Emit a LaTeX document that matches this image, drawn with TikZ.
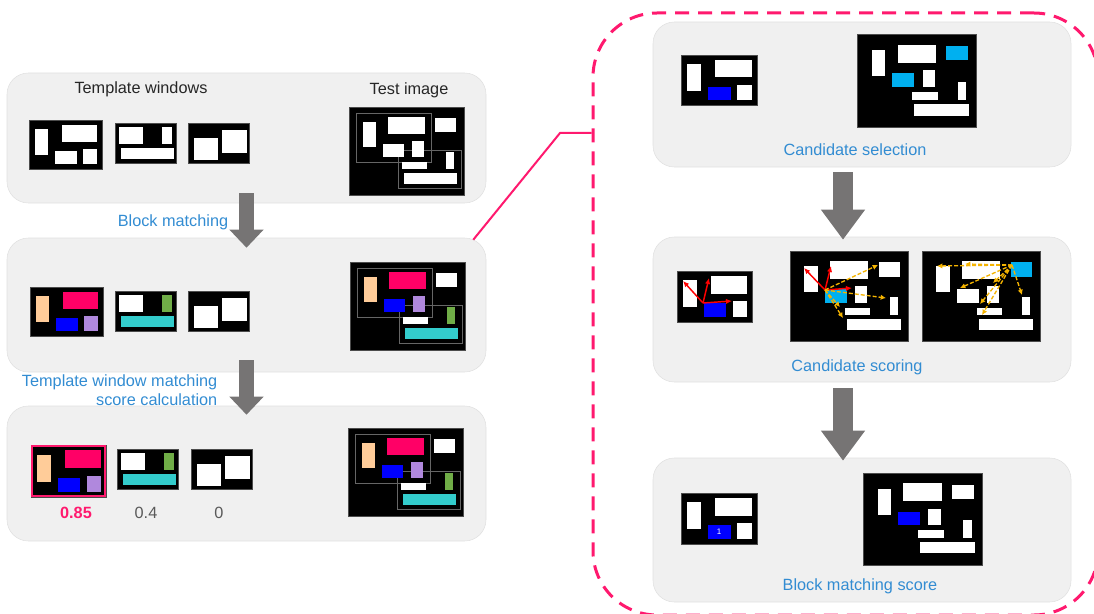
\documentclass[tikz,border=0pt]{standalone}
\usepackage{fontspec}
\setmainfont{Liberation Sans}
\usetikzlibrary{arrows.meta,fit}

\definecolor{panelgray}{RGB}{240,240,240}
\definecolor{zoompink}{RGB}{255,25,110}
\definecolor{capblue}{RGB}{50,140,210}
\definecolor{peach}{RGB}{255,204,153}
\definecolor{crimson}{RGB}{255,0,102}
\definecolor{lilac}{RGB}{176,136,221}
\definecolor{leaf}{RGB}{112,173,71}
\definecolor{blockcyan}{RGB}{51,204,204}
\definecolor{skyblue}{RGB}{0,176,240}
\definecolor{arrowgray}{RGB}{118,116,116}
\definecolor{goldline}{RGB}{245,180,0}

\tikzset{
  panel/.style={draw=black!12, fill=panelgray, rounded corners=16pt, inner sep=0pt},
  zoombox/.style={draw=zoompink, line width=2.25pt, dash pattern=on 10.5pt off 6.75pt, rounded corners=48pt, inner sep=0pt},
  win/.style={fill=black, draw=black!70, line width=0.5pt},
  blk/.style={fill=white},
  ctall/.style={blk}, ctop/.style={blk}, cright/.style={blk}, cmidA/.style={blk},
  cmidB/.style={blk}, cstall/.style={blk}, cswide/.style={blk}, cbottom/.style={blk},
  frm/.style={draw=none},
  frmon/.style={frm/.style={draw=black!60, line width=0.7pt}},
  caption/.style={font=\fontsize{12.2}{14}\selectfont, text=black!85},
  bluecap/.style={font=\fontsize{12.2}{14}\selectfont, text=capblue},
  score/.style={font=\fontsize{12.2}{14}\selectfont, text=black!65},
  bigarrow/.style={arrowgray, line width=11.25pt, -{Triangle[width=24.75pt,length=13.5pt]}},
  bigarrowR/.style={arrowgray, line width=15pt, -{Triangle[width=31.5pt,length=22.5pt]}},
  redvec/.style={red, line width=1.1pt, -{Latex[length=4.5pt,width=4pt]}},
  goldvec/.style={goldline, line width=1pt, dash pattern=on 3pt off 1.5pt, -{Latex[length=4pt,width=4pt]}},
}

\newcommand\tplA[2][]{%
  \begin{scope}[shift={#2},#1]
    \path[win] (0,0) rectangle (73,49);
    \path[ctall] (6,9) rectangle (19,35);
    \path[ctop] (33,5) rectangle (68,22);
    \path[cmidA] (26,31) rectangle (48,44);
    \path[cright] (54,29) rectangle (68,44);
  \end{scope}}
\newcommand\tplB[2][]{%
  \begin{scope}[shift={#2},#1]
    \path[win] (0,0) rectangle (61,40);
    \path[ctop] (4,4) rectangle (28,21);
    \path[cstall] (47,4) rectangle (57,21);
    \path[cbottom] (6,25) rectangle (59,36);
  \end{scope}}
\newcommand\tplC[2][]{%
  \begin{scope}[shift={#2},#1]
    \path[win] (0,0) rectangle (61,40);
    \path[cmidA] (6,15) rectangle (30,37);
    \path[ctop] (34,7) rectangle (59,30);
  \end{scope}}
\newcommand\testimg[2][]{%
  \begin{scope}[shift={#2},#1]
    \path[win] (0,0) rectangle (115,88);
    \path[frm] (7,6) rectangle (82,55);
    \path[frm] (49,43) rectangle (112,81);
    \path[ctall] (14,15) rectangle (27,40);
    \path[ctop] (39,10) rectangle (76,27);
    \path[cright] (86,11) rectangle (107,25);
    \path[cmidA] (34,37) rectangle (55,50);
    \path[cmidB] (63,34) rectangle (75,50);
    \path[cstall] (97,45) rectangle (105,62);
    \path[cswide] (53,55) rectangle (78,62);
    \path[cbottom] (55,66) rectangle (108,77);
  \end{scope}}

\begin{document}
\begin{tikzpicture}[x=0.75pt,y=-0.75pt]
\useasboundingbox (0,0) rectangle (1094,613);

\node[panel, fit={(7,73) (486,203)}] (p1) {};
\node[panel, fit={(7,238) (486,372)}] (p2) {};
\node[panel, fit={(7,406) (486,541)}] (p3) {};
\node[panel, fit={(653,22) (1071,167)}] (r1) {};
\node[panel, fit={(653,237) (1071,382)}] (r2) {};
\node[panel, fit={(653,458) (1071,602)}] (r3) {};
\node[zoombox, fit={(593,13) (1098,615)}] (zoom) {};

\coordinate (bend) at (560,133);
\draw[zoompink, line width=1.5pt] ([shift={(-9.75pt,-1.5pt)}]p2.north east) -- (bend) -- (bend -| zoom.west);

\node[caption] (twin) at (141,89) {Template windows};
\node[caption] (timg) at (409,90) {Test image};
\tplA{(29,120)}
\tplB{(115,123)}
\tplC{(188,123)}
\testimg[frmon]{(349,107)}

\draw[bigarrow] ([yshift=7.5pt]p1.south) -- ([yshift=-7.5pt]p2.north);
\node[bluecap] (bmatch) at (173,222) {Block matching};

\tplA[ctall/.style={fill=peach}, ctop/.style={fill=crimson}, cmidA/.style={fill=blue}, cright/.style={fill=lilac}]{(30,287)}
\tplB[cstall/.style={fill=leaf}, cbottom/.style={fill=blockcyan}]{(115,291)}
\tplC{(188,291)}
\testimg[frmon, ctall/.style={fill=peach}, ctop/.style={fill=crimson}, cmidA/.style={fill=blue}, cmidB/.style={fill=lilac}, cstall/.style={fill=leaf}, cbottom/.style={fill=blockcyan}]{(350,262)}

\draw[bigarrow] ([yshift=9pt]p2.south) -- ([yshift=-6.75pt]p3.north);
\node[bluecap, align=right, anchor=east] (wscore) at (222,390) {Template window matching\\score calculation};

\tplA[xscale=1.03, yscale=1.06, ctall/.style={fill=peach}, ctop/.style={fill=crimson}, cmidA/.style={fill=blue}, cright/.style={fill=lilac}]{(31,445)}
\draw[zoompink, line width=1.5pt] (32,446) rectangle (105,496);
\tplB[cstall/.style={fill=leaf}, cbottom/.style={fill=blockcyan}]{(117,449)}
\tplC{(191,449)}
\testimg[frmon, ctall/.style={fill=peach}, ctop/.style={fill=crimson}, cmidA/.style={fill=blue}, cmidB/.style={fill=lilac}, cstall/.style={fill=leaf}, cbottom/.style={fill=blockcyan}]{(348,428)}
\node[score, text=zoompink, font=\fontsize{12.2}{14}\selectfont\bfseries] (s1) at (76,513) {0.85};
\node[score] (s2) at (146,513) {0.4};
\node[score] (s3) at (219,513) {0};

\tplA[xscale=1.04, yscale=1.02, cmidA/.style={fill=blue}]{(681,55)}
\testimg[xscale=1.04, yscale=1.06, cright/.style={fill=skyblue}, cmidA/.style={fill=skyblue}]{(857,34)}
\node[bluecap] (csel) at (855,150) {Candidate selection};

\draw[bigarrowR] ([shift={(-14.25pt,-3.75pt)}]r1.south) -- ([shift={(-14.25pt,-2.25pt)}]r2.north);

\tplA[xscale=1.03, yscale=1.04, cmidA/.style={fill=blue}]{(677,271)}
\draw[redvec] (703,303) -- (683,281);
\draw[redvec] (703,303) -- (709,278);
\draw[redvec] (703,303) -- (732,301);
\testimg[xscale=1.03, yscale=1.03, cmidA/.style={fill=skyblue}]{(790,251)}
\draw[redvec] (825,290) -- (804,268);
\draw[redvec] (825,290) -- (831,266);
\draw[redvec] (825,290) -- (852,288);
\foreach \ex/\ey in {878/265, 886/298, 840/307, 843/318}
  \draw[goldvec] (825,290) -- (\ex,\ey);
\testimg[xscale=1.03, yscale=1.03, cright/.style={fill=skyblue}]{(922,251)}
\foreach \ex/\ey in {937/266, 965/264, 960/288, 980/304, 982/315, 993/283, 1022/295}
  \draw[goldvec] (1012,265) -- (\ex,\ey);
\node[bluecap] (cscore) at (857,367) {Candidate scoring};

\draw[bigarrowR] ([shift={(-14.25pt,-4.5pt)}]r2.south) -- ([shift={(-14.25pt,-2.25pt)}]r3.north);

\tplA[xscale=1.04, yscale=1.04, cmidA/.style={fill=blue}]{(681,493)}
\node[text=white, font=\fontsize{6}{6}\selectfont] (one) at (719,532) {1};
\testimg[xscale=1.035, yscale=1.045, cmidA/.style={fill=blue}]{(863,473)}
\node[bluecap] (bscore) at (860,586) {Block matching score};
\end{tikzpicture}
\end{document}
